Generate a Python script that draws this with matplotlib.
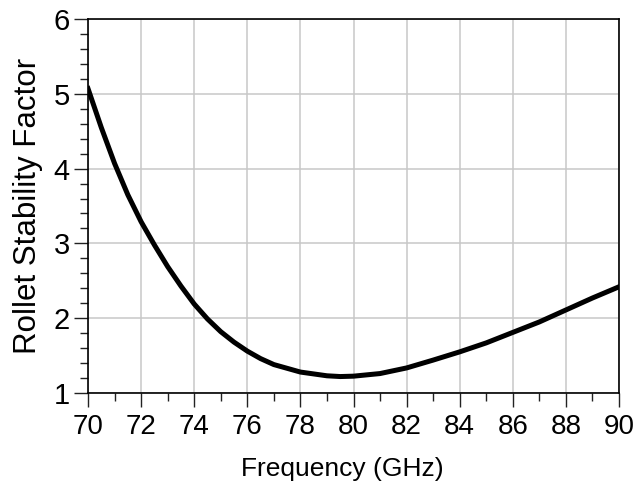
import matplotlib.pyplot as plt
from matplotlib.ticker import MultipleLocator

# values
freq_ghz = [70, 70.5, 71, 71.5, 72, 72.5, 73, 73.5, 74, 74.5, 75, 75.5, 76,
            76.5, 77, 78, 79, 79.5, 80, 81, 82, 83, 84, 85, 86, 87, 88, 89, 90]
rollet_k = [5.07, 4.55, 4.07, 3.65, 3.29, 2.98, 2.69, 2.43, 2.19, 1.99, 1.82,
            1.68, 1.56, 1.46, 1.38, 1.28, 1.23, 1.22, 1.225, 1.26, 1.335,
            1.44, 1.55, 1.67, 1.81, 1.95, 2.11, 2.27, 2.42]

x_ticks = [70, 72, 74, 76, 78, 80, 82, 84, 86, 88, 90]
y_ticks = [1, 2, 3, 4, 5, 6]

plt.rcParams['font.family'] = ['Liberation Sans', 'DejaVu Sans']

fig = plt.figure(figsize=(6.43, 4.97), dpi=100)
ax = fig.add_axes([88 / 643, 104 / 497, 531 / 643, 374 / 497])

ax.plot(freq_ghz, rollet_k, color='black', linewidth=3.6,
        solid_joinstyle='round')

ax.set_xlim(70, 90)
ax.set_ylim(1, 6)
ax.set_xticks(x_ticks)
ax.set_yticks(y_ticks)
ax.xaxis.set_minor_locator(MultipleLocator(1))
ax.yaxis.set_minor_locator(MultipleLocator(0.2))

ax.grid(True, which='major', color='#c8c8c8', linewidth=1.1)
ax.set_axisbelow(True)

ax.tick_params(which='major', direction='out', length=10, width=1.0,
               color='#222222')
ax.tick_params(which='minor', direction='out', length=5.5, width=1.0,
               color='#222222')
ax.tick_params(axis='x', which='major', pad=5, labelsize=20)
ax.tick_params(axis='y', which='major', pad=3, labelsize=21)

for side in ['top', 'right', 'bottom', 'left']:
    ax.spines[side].set_linewidth(1.2)
    ax.spines[side].set_color('black')

ax.set_xlabel('Frequency (GHz)', fontsize=19)
ax.xaxis.set_label_coords(0.479, -0.17)
ax.set_ylabel('Rollet Stability Factor', fontsize=22.5, labelpad=8)

fig.savefig('out.png', dpi=100)
